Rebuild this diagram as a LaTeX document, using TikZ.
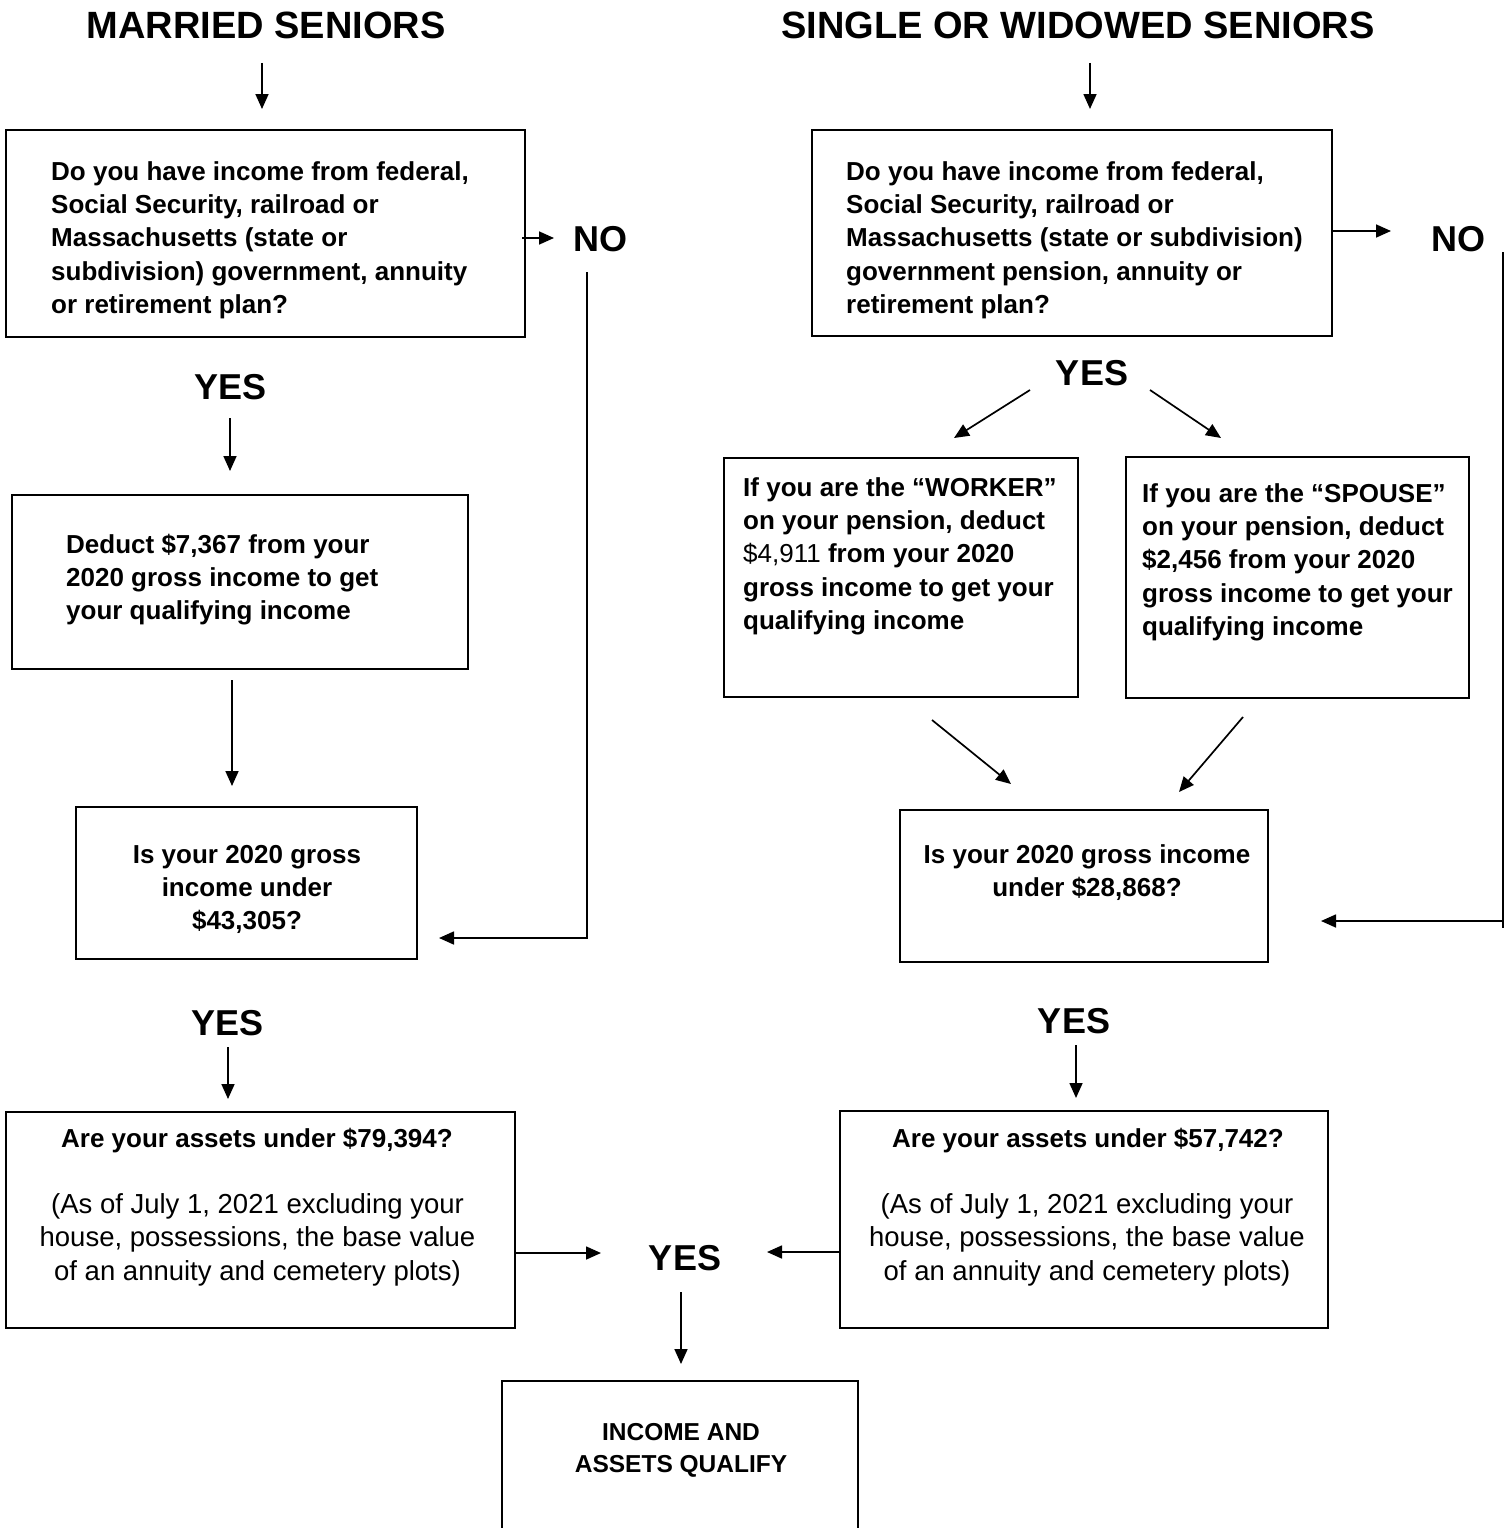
\documentclass[tikz,border=0pt]{standalone}
\usepackage{fontspec}
\setmainfont{Liberation Sans}
\usetikzlibrary{arrows.meta}
\begin{document}
\begin{tikzpicture}[x=1pt,y=-1pt,
  box/.style={draw, line width=1.8pt, inner sep=0pt},
  arr/.style={line width=1.7pt, -{Triangle[length=15pt,width=13pt]}},
  ln/.style={line width=1.7pt},
  body/.style={inner sep=0pt, font=\fontsize{26}{33.4}\selectfont\bfseries},
  reg/.style={inner sep=0pt, font=\fontsize{27.5}{33.5}\selectfont},
  big/.style={inner sep=0pt, font=\fontsize{36}{40}\selectfont\bfseries},
  ttl/.style={inner sep=0pt, font=\fontsize{38}{42}\selectfont\bfseries}]
\useasboundingbox (0,0) rectangle (1511,1528);
\fill[white] (0,0) rectangle (1511,1528);
\clip (0,0) rectangle (1511,1528);

% titles
\node[ttl, anchor=base] (tL) at (266,39) {MARRIED SENIORS};
\node[ttl, anchor=base] (tR) at (1078,39) {SINGLE OR WIDOWED SENIORS};

% boxes
\node[box, minimum width=519pt, minimum height=207pt] (a1) at (265.5,233.5) {};
\node[box, minimum width=520pt, minimum height=206pt] (b1) at (1072,233) {};
\node[box, minimum width=456pt, minimum height=174pt] (a2) at (240,582) {};
\node[box, minimum width=354pt, minimum height=239pt] (b2a) at (901,577.5) {};
\node[box, minimum width=343pt, minimum height=241pt] (b2b) at (1297.5,577.5) {};
\node[box, minimum width=341pt, minimum height=152pt] (a3) at (246.5,883) {};
\node[box, minimum width=368pt, minimum height=152pt] (b3) at (1084,886) {};
\node[box, minimum width=509pt, minimum height=216pt] (a4) at (260.5,1220) {};
\node[box, minimum width=488pt, minimum height=217pt] (b4) at (1084,1219.5) {};
\node[box, minimum width=356pt, minimum height=160pt] (fin) at (680,1461) {};

% box texts (anchor = baseline of the last line)
\node[body, anchor=base west, align=left] (a1t) at (51,313.6) {Do you have income from federal,\\Social Security, railroad or\\Massachusetts (state or\\subdivision) government, annuity\\or retirement plan?};
\node[body, anchor=base west, align=left] (b1t) at (846,313.6) {Do you have income from federal,\\Social Security, railroad or\\Massachusetts (state or subdivision)\\government pension, annuity or\\retirement plan?};
\node[body, anchor=base west, align=left] (a2t) at (66,619.8) {Deduct \$7,367 from your\\2020 gross income to get\\your qualifying income};
\node[body, anchor=base west, align=left] (b2at) at (743,629.6) {If you are the “WORKER”\\on your pension, deduct\\{\mdseries\$4,911} from your 2020\\gross income to get your\\qualifying income};
\node[body, anchor=base west, align=left] (b2bt) at (1142,635.6) {If you are the “SPOUSE”\\on your pension, deduct\\\$2,456 from your 2020\\gross income to get your\\qualifying income};
\node[body, anchor=base, align=center] (a3t) at (247,929.8) {Is your 2020 gross\\income under\\\$43,305?};
\node[body, anchor=base, align=center] (b3t) at (1087,896.4) {Is your 2020 gross income\\under \$28,868?};
\node[body, anchor=base] (a4t) at (257,1147) {Are your assets under \$79,394?};
\node[reg, anchor=base, align=center] (a4r) at (257.5,1280) {(As of July 1, 2021 excluding your\\house, possessions, the base value\\of an annuity and cemetery plots)};
\node[body, anchor=base] (b4t) at (1088,1147) {Are your assets under \$57,742?};
\node[reg, anchor=base, align=center] (b4r) at (1087,1280) {(As of July 1, 2021 excluding your\\house, possessions, the base value\\of an annuity and cemetery plots)};
\node[inner sep=0pt, font=\fontsize{24.5}{32}\selectfont\bfseries, anchor=base, align=center] (fint) at (681,1472) {INCOME AND\\ASSETS QUALIFY};

% YES / NO labels
\node[big, anchor=base] (yL1) at (230.5,399) {YES};
\node[big, anchor=base] (yL2) at (227.5,1035) {YES};
\node[big, anchor=base] (yR1) at (1092,385) {YES};
\node[big, anchor=base] (yR2) at (1074,1033) {YES};
\node[big, anchor=base] (yC) at (685,1270) {YES};
\node[big, anchor=base] (nL) at (600,251) {NO};
\node[big, anchor=base] (nR) at (1458,251) {NO};

% connector end points
\coordinate (p1) at (262,63);   \coordinate (p2) at (262,109);
\coordinate (q1) at (1090,63);  \coordinate (q2) at (1090,109);
\coordinate (p3) at (522,238);  \coordinate (p4) at (554,238);
\coordinate (q3) at (1332,231); \coordinate (q4) at (1391,231);
\coordinate (p5) at (587,272);  \coordinate (p6) at (587,938); \coordinate (p7) at (439,938);
\coordinate (q5) at (1503,252); \coordinate (q6) at (1503,928); \coordinate (q6b) at (1503,921); \coordinate (q7) at (1321,921);
\coordinate (p8) at (230,418);  \coordinate (p9) at (230,471);
\coordinate (p10) at (232,680); \coordinate (p11) at (232,786);
\coordinate (p12) at (228,1047); \coordinate (p13) at (228,1099);
\coordinate (q8) at (1030,390); \coordinate (q9) at (954,438);
\coordinate (q10) at (1150,390); \coordinate (q11) at (1221,438);
\coordinate (q12) at (932,720); \coordinate (q13) at (1011,784);
\coordinate (q14) at (1243,717); \coordinate (q15) at (1179,792);
\coordinate (q16) at (1076,1045); \coordinate (q17) at (1076,1098);
\coordinate (c1) at (515,1253); \coordinate (c2) at (601,1253);
\coordinate (c3) at (839,1252); \coordinate (c4) at (767,1252);
\coordinate (c5) at (681,1292); \coordinate (c6) at (681,1364);

% connectors
\draw[arr] (p1) -- (p2);
\draw[arr] (q1) -- (q2);
\draw[arr] (p3) -- (p4);
\draw[arr] (q3) -- (q4);
\draw[arr] (p5) -- (p6) -- (p7);
\draw[ln] (q5) -- (q6);
\draw[arr] (q6b) -- (q7);
\draw[arr] (p8) -- (p9);
\draw[arr] (p10) -- (p11);
\draw[arr] (p12) -- (p13);
\draw[arr] (q8) -- (q9);
\draw[arr] (q10) -- (q11);
\draw[arr] (q12) -- (q13);
\draw[arr] (q14) -- (q15);
\draw[arr] (q16) -- (q17);
\draw[arr] (c1) -- (c2);
\draw[arr] (c3) -- (c4);
\draw[arr] (c5) -- (c6);
\end{tikzpicture}
\end{document}
